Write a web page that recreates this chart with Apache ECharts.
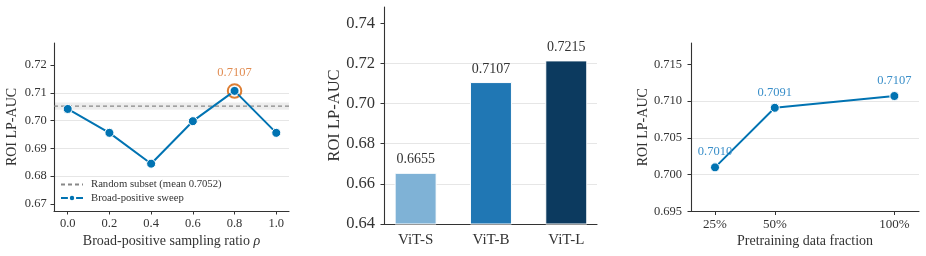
<!DOCTYPE html>
<html>
<head>
<meta charset="utf-8">
<script src="https://cdn.jsdelivr.net/npm/echarts@6/dist/echarts.min.js"></script>
<style>
  html, body { margin: 0; padding: 0; background: #fff; }
  #chart { width: 926px; height: 256px; }
</style>
</head>
<body>
<div id="chart"></div>
<script>
// panel 1: sampling ratio sweep
const ratios = [0.0, 0.2, 0.4, 0.6, 0.8, 1.0]
const sweepAuc = [0.7042, 0.6956, 0.6845, 0.6998, 0.7107, 0.6956]
const randomMean = 0.7052
const randomBand = [0.7039, 0.7065]
const bestRatio = 0.8
const ratioTicks = [0.0, 0.2, 0.4, 0.6, 0.8, 1.0]
const sweepTicks = [0.67, 0.68, 0.69, 0.70, 0.71, 0.72]

// panel 2: backbone size
const models = ['ViT-S', 'ViT-B', 'ViT-L']
const modelAuc = [0.6655, 0.7107, 0.7215]
const modelColors = ['#7fb2d6', '#2077b4', '#0c3a5f']
const modelTicks = [0.64, 0.66, 0.68, 0.70, 0.72, 0.74]

// panel 3: pretraining data fraction
const fractions = [25, 50, 100]
const fractionAuc = [0.7010, 0.7091, 0.7107]
const fractionTicks = [0.695, 0.700, 0.705, 0.710, 0.715]

const FONT = "'Liberation Serif', 'DejaVu Serif', serif"
const INK = '#333'
const BLUE = '#0173B2'
const ORANGE = '#D55E00'

const X1 = [-0.0657, 1.061]
const X2 = [-0.42, 2.408]

function axisBase (extra) {
  return Object.assign({
    axisLine: { show: true, onZero: false, lineStyle: { color: INK, width: 1.1 } },
    axisTick: { show: true, length: 3.5, lineStyle: { color: INK, width: 1 } },
    splitLine: { show: false },
    nameMoveOverlap: false
  }, extra)
}

const gridLine = { show: true, showMinLine: false, showMaxLine: false, lineStyle: { color: '#e6e6e6', width: 1 } }

const el = document.getElementById('chart')
const chart = echarts.init(el, null, { renderer: 'canvas' })

const bestIdx = ratios.indexOf(bestRatio)

const option = {
  animation: false,
  textStyle: { fontFamily: FONT, color: INK },
  grid: [
    { left: 54, top: 43, width: 235, height: 168 },
    { left: 384, top: 7, width: 213, height: 217 },
    { left: 691, top: 43, width: 228, height: 168.5 }
  ],
  legend: {
    left: 56, top: 177, orient: 'vertical',
    itemWidth: 22, itemHeight: 8, itemGap: 2.5,
    padding: [2, 4],
    backgroundColor: 'rgba(255,255,255,0.85)',
    textStyle: { fontFamily: FONT, fontSize: 10.7, color: INK, padding: [0, 0, 0, 3] },
    data: [
      { name: 'Random subset (mean 0.7052)', itemStyle: { opacity: 0 } },
      { name: 'Broad-positive sweep' }
    ]
  },
  xAxis: [
    axisBase({
      gridIndex: 0, type: 'value', min: X1[0], max: X1[1],
      axisTick: { show: true, length: 3.5, customValues: ratioTicks, lineStyle: { color: INK } },
      axisLabel: { customValues: ratioTicks, formatter: v => v.toFixed(1), fontSize: 12.5, color: INK, margin: 6, fontFamily: FONT },
      name: 'Broad-positive sampling ratio {i|ρ}', nameLocation: 'middle', nameGap: 23,
      nameTextStyle: { fontSize: 14, color: INK, fontFamily: FONT, rich: { i: { fontStyle: 'italic', fontSize: 14, fontFamily: FONT } } }
    }),
    axisBase({
      gridIndex: 1, type: 'value', min: X2[0], max: X2[1],
      axisTick: { show: false },
      axisLabel: { customValues: [0, 1, 2], formatter: v => models[Math.round(v)], fontSize: 15, color: INK, margin: 8.5, fontFamily: FONT }
    }),
    axisBase({
      gridIndex: 2, type: 'value', min: 14.96, max: 110.3,
      axisTick: { show: true, length: 3.5, customValues: fractions, lineStyle: { color: INK } },
      axisLabel: { customValues: fractions, formatter: v => v + '%', fontSize: 13, color: INK, margin: 6.3, fontFamily: FONT },
      name: 'Pretraining data fraction', nameLocation: 'middle', nameGap: 23,
      nameTextStyle: { fontSize: 14, color: INK, fontFamily: FONT }
    })
  ],
  yAxis: [
    axisBase({
      gridIndex: 0, type: 'value', min: 0.66747, max: 0.72794,
      axisTick: { show: true, length: 3.5, customValues: sweepTicks, lineStyle: { color: INK } },
      axisLabel: { customValues: sweepTicks, formatter: v => v.toFixed(2), fontSize: 12.5, color: INK, margin: 7.3, fontFamily: FONT },
      splitLine: gridLine,
      name: 'ROI LP-AUC', nameLocation: 'middle', nameGap: 35,
      nameTextStyle: { fontSize: 14, color: INK, fontFamily: FONT }
    }),
    axisBase({
      gridIndex: 1, type: 'value', min: 0.64, max: 0.7481,
      axisTick: { show: true, length: 3.5, customValues: modelTicks, lineStyle: { color: INK } },
      axisLabel: { customValues: modelTicks, formatter: v => v.toFixed(2), fontSize: 16.5, color: INK, margin: 9, fontFamily: FONT },
      splitLine: gridLine,
      name: 'ROI LP-AUC', nameLocation: 'middle', nameGap: 41,
      nameTextStyle: { fontSize: 16.5, color: INK, fontFamily: FONT }
    }),
    axisBase({
      gridIndex: 2, type: 'value', min: 0.695, max: 0.71791,
      axisTick: { show: true, length: 3.5, customValues: fractionTicks, lineStyle: { color: INK } },
      axisLabel: { customValues: fractionTicks, formatter: v => v.toFixed(3), fontSize: 12.5, color: INK, margin: 9, fontFamily: FONT },
      splitLine: gridLine,
      name: 'ROI LP-AUC', nameLocation: 'middle', nameGap: 41,
      nameTextStyle: { fontSize: 14, color: INK, fontFamily: FONT }
    })
  ],
  series: [
    {
      name: 'Random subset (mean 0.7052)',
      type: 'line', xAxisIndex: 0, yAxisIndex: 0,
      data: [[X1[0], randomMean], [X1[1], randomMean]],
      symbol: 'none', silent: true, z: 1,
      lineStyle: { color: '#888', width: 1.2, type: [4, 3] },
      itemStyle: { color: '#888' },
      markArea: {
        silent: true,
        itemStyle: { color: 'rgba(0,0,0,0.07)' },
        data: [[{ yAxis: randomBand[0] }, { yAxis: randomBand[1] }]]
      }
    },
    {
      name: 'Broad-positive sweep',
      type: 'line', xAxisIndex: 0, yAxisIndex: 0,
      data: ratios.map((r, i) => [r, sweepAuc[i]]),
      symbol: 'circle', symbolSize: 9, z: 3,
      lineStyle: { color: BLUE, width: 2 },
      itemStyle: { color: BLUE, borderColor: '#fff', borderWidth: 1 }
    },
    {
      type: 'scatter', xAxisIndex: 0, yAxisIndex: 0,
      data: [[bestRatio, sweepAuc[bestIdx]]],
      symbol: 'circle', symbolSize: 13.5, z: 2,
      itemStyle: { color: 'rgba(0,0,0,0)', borderColor: ORANGE, borderWidth: 2 },
      label: {
        show: true, position: 'top', distance: 4,
        formatter: p => p.value[1].toFixed(4),
        color: '#DA6F26', fontSize: 12.5, fontFamily: FONT
      }
    },
    {
      type: 'bar', xAxisIndex: 1, yAxisIndex: 1,
      barWidth: 42,
      data: models.map((m, i) => ({
        value: [i, modelAuc[i]],
        itemStyle: { color: modelColors[i], borderColor: '#fff', borderWidth: 1 }
      })),
      label: {
        show: true, position: 'top', distance: 6,
        formatter: p => p.value[1].toFixed(4),
        color: INK, fontSize: 14, fontFamily: FONT
      }
    },
    {
      type: 'line', xAxisIndex: 2, yAxisIndex: 2,
      data: fractions.map((f, i) => [f, fractionAuc[i]]),
      symbol: 'circle', symbolSize: 9,
      lineStyle: { color: BLUE, width: 2 },
      itemStyle: { color: BLUE, borderColor: '#fff', borderWidth: 1 },
      label: {
        show: true, position: 'top', distance: 4,
        formatter: p => p.value[1].toFixed(4),
        color: '#3a8fc9', fontSize: 12.5, fontFamily: FONT
      }
    }
  ]
}

chart.setOption(option)
</script>
</body>
</html>
